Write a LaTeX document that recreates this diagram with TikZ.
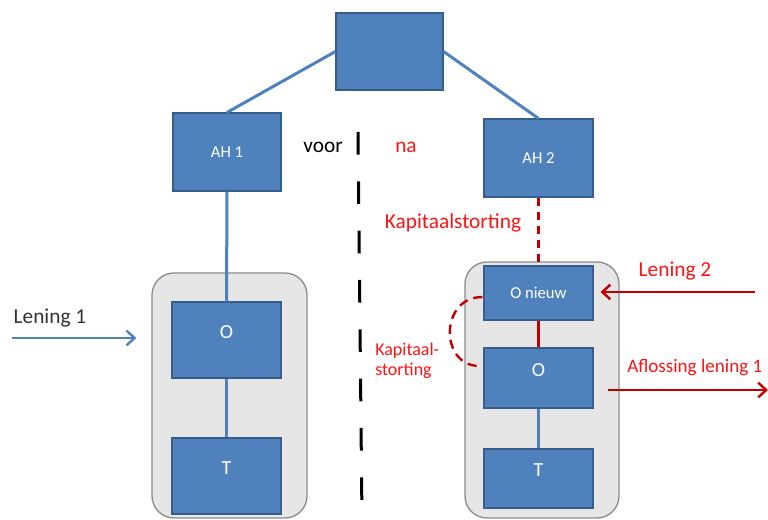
\documentclass[tikz,border=0pt]{standalone}
\usepackage{fontspec}
\setmainfont{Carlito}
\definecolor{boxBlue}{RGB}{79,129,189}
\definecolor{boxEdge}{RGB}{56,93,138}
\definecolor{lineBlue}{RGB}{79,129,189}
\definecolor{groupGray}{RGB}{230,230,230}
\definecolor{groupEdge}{RGB}{140,140,140}
\definecolor{darkRed}{RGB}{192,0,0}
\definecolor{textRed}{RGB}{250,20,20}
\usetikzlibrary{positioning,calc,arrows.meta}

\tikzset{
  entity/.style={draw=boxEdge,fill=boxBlue,line width=0.8pt,text=white,font=\fontsize{12.5}{15}\selectfont},
  bigtext/.style={font=\fontsize{15}{18}\selectfont,text height=9.5pt,text depth=12pt},
  group/.style={draw=groupEdge,fill=groupGray,line width=1pt,rounded corners=16.5pt},
  tie/.style={lineBlue,line width=2.25pt},
  redtie/.style={darkRed,line width=2.25pt},
  flow/.style={line width=1.8pt,-{Straight Barb[length=6pt,width=11pt]}},
  note/.style={font=\fontsize{16}{19}\selectfont},
}

\begin{document}
\begin{tikzpicture}[x=0.75pt,y=-0.75pt]
\useasboundingbox (0,0) rectangle (768,520);
% grey groups
\node[group,minimum width=116.25pt,minimum height=183.75pt] (grpL) at (229.5,395.5) {};
\node[group,minimum width=115.5pt,minimum height=192pt] (grpR) at (542,390) {};
% entities
\node[entity,minimum width=80.25pt,minimum height=57.75pt] (top) at (389.5,51.5) {};
\node[entity,minimum width=81pt,minimum height=58.5pt] (ah1) at (227,152) {AH 1};
\node[entity,minimum width=81.75pt,minimum height=58.5pt] (ah2) at (538.5,158) {AH 2};
\node[entity,bigtext,minimum width=81.75pt,minimum height=57pt] (o1) at (226.5,340) {O};
\node[entity,bigtext,minimum width=81.75pt,minimum height=57pt] (t1) at (226.5,476) {T};
\node[entity,minimum width=81.75pt,minimum height=40.5pt] (onieuw) at (538.5,293) {O nieuw};
\node[entity,bigtext,minimum width=81.75pt,minimum height=45pt] (o2) at (538.5,378) {O};
\node[entity,bigtext,minimum width=81.75pt,minimum height=44.25pt] (t2) at (538.5,478.5) {T};
% ties
\draw[tie] (top.west) -- (ah1.north);
\draw[tie] (top.east) -- (ah2.north);
\draw[tie] (ah1.south) -- (o1.north);
\draw[tie] (o1.south) -- (t1.north);
\draw[tie] (o2.south) -- (t2.north);
\draw[redtie] (onieuw.south) -- (o2.north);
\draw[redtie,dash pattern=on 6pt off 4.5pt] (ah2.south) -- (onieuw.north);
% voor / na divider
\coordinate (divTop) at (358,132);
\coordinate (divBot) at (362,520);
\draw[black,line width=2.25pt,dash pattern=on 17pt off 20pt] (divTop) -- (divBot);
% loans
\coordinate (len1) at (12,338);
\draw[flow,lineBlue,shorten >=11.25pt] (len1) -- (len1 -| grpL.west);
\coordinate (len2) at (755,292);
\draw[flow,darkRed,shorten >=5.25pt] (len2) -- (len2 -| onieuw.east);
\coordinate (afl) at (768,390);
\draw[flow,darkRed,shorten <=10.5pt] (afl -| o2.east) -- (afl);
% capital injection
\draw[darkRed,line width=1.8pt,dash pattern=on 7pt off 4.5pt] ($(onieuw.west)+(-1,4)$) .. controls +(-43,0) and +(-40,0) .. ($(o2.west)+(-4,-12)$);
% labels
\node[note] (voor) at (323,147) {voor};
\node[note,textRed] (na) at (406,147) {na};
\node[note,textRed] (kapTop) at (453,223) {Kapitaalstorting};
\node[note,black!80] (len1txt) at (50,318) {Lening 1};
\node[note,textRed] (len2txt) at (675,271) {Lening 2};
\node[textRed,anchor=west,inner sep=0pt,font=\fontsize{14.3}{17}\selectfont] (afltxt) at (627,368) {Aflossing lening 1};
\node[textRed,anchor=west,align=left,inner sep=0pt,font=\fontsize{13.5}{15}\selectfont] (kapLeft) at (375,361) {Kapitaal-\\storting};
\end{tikzpicture}
\end{document}
